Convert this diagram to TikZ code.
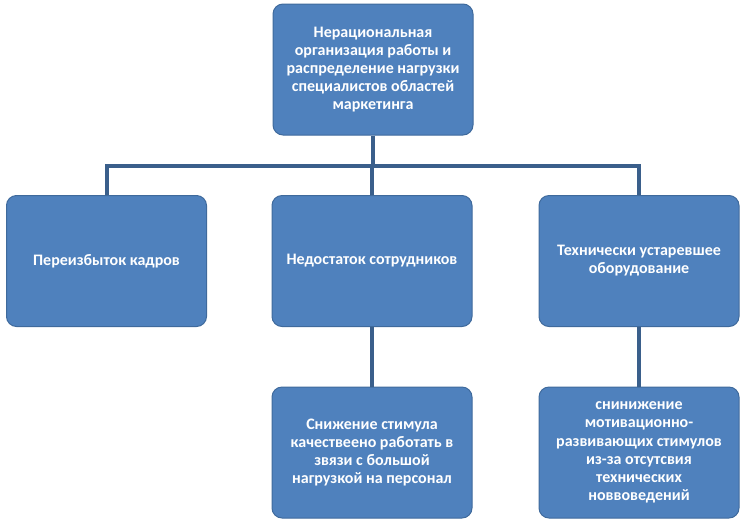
\documentclass[tikz,border=0pt]{standalone}
\usepackage{fontspec}
\setmainfont{Carlito}
\definecolor{boxfill}{HTML}{4F81BD}
\definecolor{boxline}{HTML}{3F6A9C}
\definecolor{connline}{HTML}{3A5F8B}
\begin{document}
\begin{tikzpicture}[x=0.75pt,y=-0.75pt,
  box/.style={draw=boxline, fill=boxfill, rounded corners=7.5pt, line width=0.75pt,
    minimum width=150pt, minimum height=98.25pt, align=center,
    text=white, font=\bfseries\fontsize{12}{13.6}\selectfont, inner sep=0pt},
  conn/.style={draw=connline, line width=3pt, line join=miter}]
\useasboundingbox (0,0) rectangle (745,522);
\node[box] (top) at (373,69.5) {Нерациональная\\организация работы и\\распределение нагрузки\\специалистов областей\\маркетинга};
\node[box] (l) at (106.5,261) {Переизбыток кадров};
\node[box] (m) at (372,261) {Недостаток сотрудников};
\node[box] (r) at (639,261) {Технически устаревшее\\оборудование};
\node[box] (ms) at (372,452.5) {Снижение стимула\\качествеено работать в\\звязи с большой\\нагрузкой на персонал};
\node[box] (rs) at (639,452.5) {снинижение\\мотивационно-\\развивающих стимулов\\из-за отсутсвия\\технических\\новвоведений};
\coordinate (bus) at (373,166);
\draw[conn] (top.south) -- (top.south |- bus);
\draw[conn] (l.north) |- (bus) -| (r.north);
\draw[conn] (m.north) -- (m.north |- bus);
\draw[conn] (m.south) -- (ms.north);
\draw[conn] (r.south) -- (rs.north);
\end{tikzpicture}
\end{document}
